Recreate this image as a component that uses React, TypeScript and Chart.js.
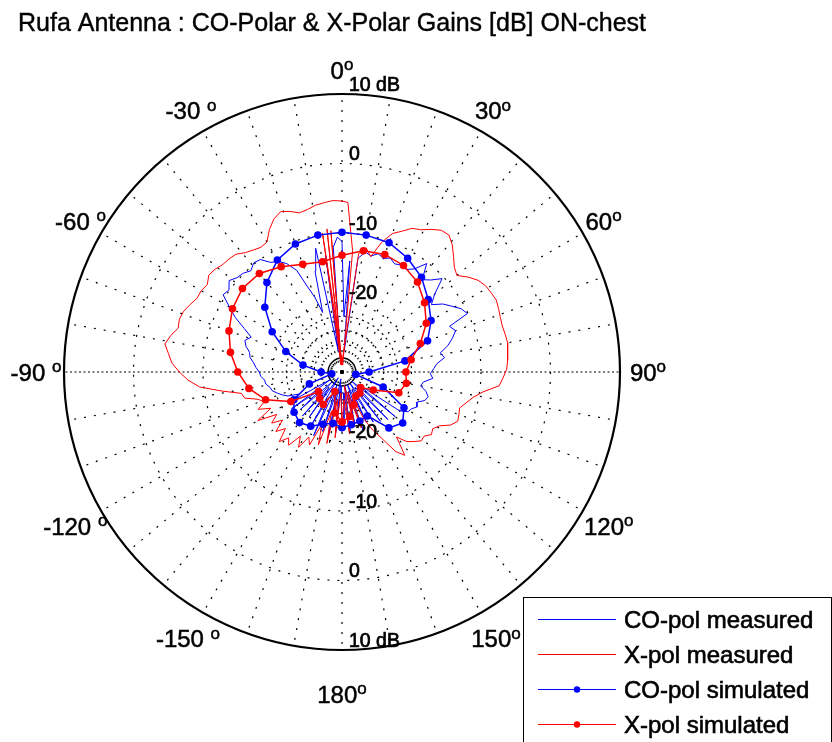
import React, { useEffect, useRef } from "react";
import { Chart, registerables } from "chart.js";
Chart.register(...registerables);

const DB_MIN = -30;
const DB_MAX = 10;
const ringTicks = [10, 0, -10, -20];
const ringTickLabels = ["10 dB", "0", "-10", "-20"];
const innerRingTicks = [-22, -24, -26];
const innerSolidRing = -28;
const spokeStep = 10;
const angleTicks = [0, 30, 60, 90, 120, 150, 180, -150, -120, -90, -60, -30];
const angleTickLabels = ["0", "30", "60", "90", "120", "150", "180", "-150", "-120", "-90", "-60", "-30"];

const titleText = "Rufa Antenna : CO-Polar & X-Polar Gains [dB] ON-chest";
const seriesNames = ["CO-pol measured", "X-pol measured", "CO-pol simulated", "X-pol simulated"];

const simAngles = [-180, -170, -160, -150, -140, -130, -120, -110, -100, -90, -80, -70, -60, -50, -40, -30, -20, -10, 0, 10, 20, 30, 40, 50, 60, 70, 80, 90, 100, 110, 120, 130, 140, 150, 160, 170, 180];
const coSimValues = [-22, -22.5, -22, -21, -20.5, -21, -22, -25, -28.5, -27, -24.3, -21.4, -18.4, -15.5, -13.2, -11.4, -10.4, -10, -9.9, -10, -10.2, -11.1, -12.2, -13.8, -15.2, -16.9, -20.8, -26.1, -28, -23.7, -19.7, -18.6, -19.5, -22.7, -22.5, -22.3, -22];
const xSimValues = [-22.8, -24, -27, -24.6, -25, -25.6, -21.5, -18.3, -16.4, -15.0, -13.7, -12.7, -11.8, -11.3, -11.5, -12.5, -13.5, -13.9, -13.2, -12.3, -12.0, -12.3, -13.1, -14.5, -16.0, -18.0, -19.9, -20.8, -20.6, -21.3, -24.8, -26.5, -26, -26, -25, -23.5, -22.8];

const xMeasAngles = [-180, -177, -174, -171, -168, -165, -162, -159, -156, -153, -150, -147, -144, -141, -138, -135, -132, -129, -126, -123, -120, -117, -114, -111, -108, -105, -102, -99, -96, -93, -90, -87, -84, -81, -78, -75, -72, -69, -66, -63, -60, -57, -54, -51, -48, -45, -42, -39, -36, -33, -30, -27, -24, -21, -18, -15, -12, -9, -6, -3, 0, 2, 5, 6, -8, -7, -6, -5, -4.5, -3.5, 8, 11, 14, 17, 20, 23, 26, 29, 32, 35, 38, 41, 44, 47, 50, 53, 56, 59, 62, 65, 68, 71, 74, 77, 80, 83, 86, 89, 92, 95, 98, 101, 104, 107, 110, 113, 116, 119, 122, 125, 128, 131, 134, 137, 140, 143, 146, 149, 152, 155, 158, 161, 164, 167, 170, 173, 176, 180];
const xMeasValues = [-22, -27, -20.5, -26, -19.5, -24, -19, -22, -18.5, -19.5, -17.5, -19, -17, -17.8, -16.5, -18.5, -17.2, -19, -17.5, -18.8, -16, -18.5, -16.8, -18, -17.3, -15.5, -15.2, -12.5, -9.4, -7.8, -6.6, -5.5, -4.9, -4.2, -4.8, -5.6, -5.4, -5.6, -6.1, -6.6, -6.6, -6.9, -6.3, -6.5, -6.9, -7.0, -7.2, -7.9, -8.3, -8.6, -8.4, -7.0, -5.9, -5.3, -5.7, -6.3, -6.1, -5.7, -5.5, -5.3, -5.4, -5.6, -12.5, -29, -9.8, -29, -9.3, -29, -9.6, -29, -12.8, -11.8, -12.9, -10.5, -8.8, -8.0, -7.0, -6.6, -5.8, -5.1, -5.0, -5.8, -6.9, -7.9, -8.4, -7.3, -6.4, -5.9, -5.7, -5.5, -5.7, -5.9, -6.0, -5.9, -5.8, -6.0, -6.1, -6.3, -6.8, -7.3, -9.5, -10.8, -11.6, -12.3, -12.1, -11.9, -12.6, -14.0, -14.6, -14.3, -15.0, -14.9, -15.6, -16.3, -17.8, -15.0, -16.2, -18.8, -20.5, -22.5, -26, -21.5, -27, -22, -28, -21, -26, -22];

const coMeasAngles = [-180, -177, -174, -171, -168, -165, -162, -159, -156, -153, -150, -147, -144, -141, -138, -135, -132, -129, -126, -123, -120, -117, -114, -111, -108, -105, -102, -99, -96, -93, -90, -87, -84, -81, -78, -75, -72, -69, -66, -63, -60, -57, -54, -51, -48, -45, -42, -39, -36, -33, -30, -27, -24, -22, -20, -18, -15, -12, -10, -8, -6, -4, -2, 0, 2, 4, 6, 8, 11, 14, 17, 20, 23, 26, 29, 32, 35, 38, 41, 44, 47, 50, 53, 56, 59, 62, 65, 67, 70, 73, 76, 79, 82, 85, 88, 91, 94, 97, 100, 103, 106, 109, 112, 115, 118, 121, 124, 127, 130, 133, 136, 139, 142, 145, 148, 151, 154, 157, 160, 163, 166, 169, 172, 175, 178, 180];
const coMeasValues = [-22, -28, -21, -29, -20.5, -27, -21, -28, -20, -26, -21, -29, -22, -27, -21.5, -28, -22, -26, -21, -28, -21.5, -23, -21.5, -20.8, -20.2, -19.6, -19.4, -18.9, -18.8, -18.3, -18.1, -17.6, -17.2, -16.6, -16.4, -15.7, -15.3, -16.0, -14.6, -12.8, -11.3, -9.6, -9.9, -9.1, -9.7, -9.9, -10.4, -9.8, -10.0, -11.2, -11.6, -12.5, -14.0, -16.8, -18.5, -21, -15, -11.8, -27, -13, -28, -12, -10.6, -11.2, -22, -14, -27, -13.5, -12.4, -12.8, -12.2, -12.6, -12.2, -12.7, -12.4, -12.6, -11.9, -10.2, -12.4, -11.6, -10.3, -12.6, -13.9, -12.5, -11.6, -10.6, -10.1, -13.2, -12.6, -13.4, -14.3, -15.6, -15.1, -16.3, -16.8, -17.3, -16.9, -18.2, -18.5, -17.6, -17.1, -17.4, -18.4, -18.1, -18.7, -18.9, -20, -27, -20, -28, -20.5, -27, -21, -28, -21.5, -27, -22, -28, -21, -27, -22.5, -28, -21.5, -27, -22];

const FONT = "'Liberation Sans', Arial, Helvetica, sans-serif";
const BLUE = "#0000ff";
const RED = "#ff0000";

function toPoints(angles: number[], values: number[]) {
  const n = Math.min(angles.length, values.length);
  const pts: { x: number; y: number }[] = [];
  for (let i = 0; i < n; i++) {
    const r = Math.max(0, values[i] - DB_MIN);
    const t = (angles[i] * Math.PI) / 180;
    pts.push({ x: r * Math.sin(t), y: r * Math.cos(t) });
  }
  return pts;
}

function labelRadius(a: number) {
  const m = Math.abs(a);
  if (m === 180) return 322;
  if (m >= 120) return 308;
  if (m === 90) return 306;
  return 302;
}

function heavyText(ctx: CanvasRenderingContext2D, s: string, x: number, y: number, w = 0.45) {
  ctx.fillText(s, x, y);
  ctx.lineWidth = w;
  ctx.strokeStyle = "#000";
  ctx.setLineDash([]);
  ctx.strokeText(s, x, y);
}

const polarPlugin = {
  id: "polarDecor",
  beforeDatasetsDraw(chart: any) {
    const ctx = chart.ctx as CanvasRenderingContext2D;
    const xs = chart.scales.x;
    const ys = chart.scales.y;
    const cx = xs.getPixelForValue(0);
    const cy = ys.getPixelForValue(0);
    const rp = (db: number) => xs.getPixelForValue(db - DB_MIN) - cx;
    const R = rp(DB_MAX);
    ctx.save();
    ctx.strokeStyle = "#000";
    ctx.lineWidth = 1.2;
    for (let a = 0; a < 180; a += spokeStep) {
      const t = (a * Math.PI) / 180;
      ctx.setLineDash(a === 90 ? [2, 2.5] : [2, 8]);
      ctx.beginPath();
      ctx.moveTo(cx, cy);
      ctx.lineTo(cx + R * Math.sin(t), cy - R * Math.cos(t));
      ctx.stroke();
      ctx.beginPath();
      ctx.moveTo(cx, cy);
      ctx.lineTo(cx - R * Math.sin(t), cy + R * Math.cos(t));
      ctx.stroke();
    }
    ctx.setLineDash([2, 8]);
    for (const v of ringTicks) {
      if (v === DB_MAX) continue;
      ctx.beginPath();
      ctx.arc(cx, cy, rp(v), 0, Math.PI * 2);
      ctx.stroke();
    }
    ctx.setLineDash([2, 4]);
    for (const v of innerRingTicks) {
      ctx.beginPath();
      ctx.arc(cx, cy, rp(v), 0, Math.PI * 2);
      ctx.stroke();
    }
    ctx.setLineDash([]);
    ctx.lineWidth = 1.5;
    ctx.beginPath();
    ctx.arc(cx, cy, rp(innerSolidRing), 0, Math.PI * 2);
    ctx.stroke();
    ctx.lineWidth = 2.2;
    ctx.beginPath();
    ctx.arc(cx, cy, R, 0, Math.PI * 2);
    ctx.stroke();
    ctx.restore();
  },
  afterDatasetsDraw(chart: any) {
    const ctx = chart.ctx as CanvasRenderingContext2D;
    const xs = chart.scales.x;
    const ys = chart.scales.y;
    const cx = xs.getPixelForValue(0);
    const cy = ys.getPixelForValue(0);
    const rp = (db: number) => xs.getPixelForValue(db - DB_MIN) - cx;
    ctx.save();
    ctx.fillStyle = "#000";
    ctx.textBaseline = "alphabetic";
    ctx.textAlign = "left";
    const rs = 19.5;
    ctx.font = `${rs}px ${FONT}`;
    ringTicks.forEach((v, i) => {
      const r = rp(v);
      const off = (rs * 0.716) / 2;
      heavyText(ctx, ringTickLabels[i], cx + 7, cy - r - 10 + off, 0.7);
      heavyText(ctx, ringTickLabels[i], cx + 7, cy + r - 10 + off, 0.7);
    });
    const fs = 24;
    const ss = 17;
    angleTicks.forEach((a, i) => {
      const txt = angleTickLabels[i];
      const neg = a < 0;
      ctx.font = `${fs}px ${FONT}`;
      const w1 = ctx.measureText(txt).width;
      const gap = neg ? ctx.measureText(" ").width : 0;
      ctx.font = `${ss}px ${FONT}`;
      const w2 = ctx.measureText("o").width;
      const total = w1 + gap + w2;
      const rr = labelRadius(a);
      const t = (a * Math.PI) / 180;
      const lx = cx + rr * Math.sin(t) - total / 2;
      const ly = cy - rr * Math.cos(t);
      const cap = fs * 0.716;
      const base = ly + cap / 2;
      ctx.font = `${fs}px ${FONT}`;
      heavyText(ctx, txt, lx, base, 0.5);
      ctx.font = `${ss}px ${FONT}`;
      heavyText(ctx, "o", lx + w1 + gap, base - cap + ss * 0.52, 0.5);
    });
    ctx.restore();
  },
  afterDraw(chart: any) {
    const ctx = chart.ctx as CanvasRenderingContext2D;
    ctx.save();
    ctx.fillStyle = "#000";
    ctx.textBaseline = "alphabetic";
    ctx.textAlign = "left";
    ctx.font = `25px ${FONT}`;
    heavyText(ctx, titleText, 18, 31, 0.4);
    const lx = 523.5, ly = 597.5;
    ctx.fillStyle = "#fff";
    ctx.fillRect(lx, ly, 308, 160);
    ctx.strokeStyle = "#000";
    ctx.lineWidth = 1;
    ctx.strokeRect(lx, ly, 308, 160);
    const colors = [BLUE, RED, BLUE, RED];
    const markers = [false, false, true, true];
    seriesNames.forEach((name, i) => {
      const y = 619 + i * 35;
      ctx.strokeStyle = colors[i];
      ctx.lineWidth = 1;
      ctx.setLineDash([]);
      ctx.beginPath();
      ctx.moveTo(538, y + 0.5);
      ctx.lineTo(616, y + 0.5);
      ctx.stroke();
      if (markers[i]) {
        ctx.fillStyle = colors[i];
        ctx.beginPath();
        ctx.arc(577, y + 0.5, 3.2, 0, Math.PI * 2);
        ctx.fill();
      }
      ctx.fillStyle = "#000";
      ctx.font = `24px ${FONT}`;
      heavyText(ctx, name, 624, y + 8.6, 0.6);
    });
    ctx.restore();
  },
};

export default function App() {
  const ref = useRef<HTMLCanvasElement | null>(null);
  useEffect(() => {
    if (!ref.current) return;
    const chart = new Chart(ref.current, {
      type: "scatter",
      data: {
        datasets: [
          {
            label: seriesNames[0],
            data: toPoints(coMeasAngles, coMeasValues),
            showLine: true,
            borderColor: BLUE,
            borderWidth: 1,
            pointRadius: 0,
            order: 4,
          },
          {
            label: seriesNames[1],
            data: toPoints(xMeasAngles, xMeasValues),
            showLine: true,
            borderColor: RED,
            borderWidth: 1,
            pointRadius: 0,
            order: 3,
          },
          {
            label: seriesNames[2],
            data: toPoints(simAngles, coSimValues),
            showLine: true,
            borderColor: BLUE,
            borderWidth: 1.5,
            pointRadius: 3.8,
            pointBackgroundColor: BLUE,
            pointBorderWidth: 0,
            order: 2,
          },
          {
            label: seriesNames[3],
            data: toPoints(simAngles, xSimValues),
            showLine: true,
            borderColor: RED,
            borderWidth: 1.5,
            pointRadius: 3.8,
            pointBackgroundColor: RED,
            pointBorderWidth: 0,
            order: 1,
          },
        ] as any,
      },
      options: {
        animation: false,
        responsive: false,
        devicePixelRatio: 1,
        events: [],
        layout: { padding: { left: 64, top: 94, right: 212, bottom: 92 } },
        scales: {
          x: { type: "linear", min: -40, max: 40, display: false },
          y: { type: "linear", min: -40, max: 40, display: false },
        },
        plugins: {
          legend: { display: false },
          tooltip: { enabled: false },
          title: { display: false },
        },
      } as any,
      plugins: [polarPlugin],
    });
    return () => chart.destroy();
  }, []);
  return (
    <div style={{ position: "absolute", left: 0, top: 0, width: 832, height: 742, background: "#fff" }}>
      <canvas ref={ref} width={832} height={742} style={{ display: "block" }} />
    </div>
  );
}
